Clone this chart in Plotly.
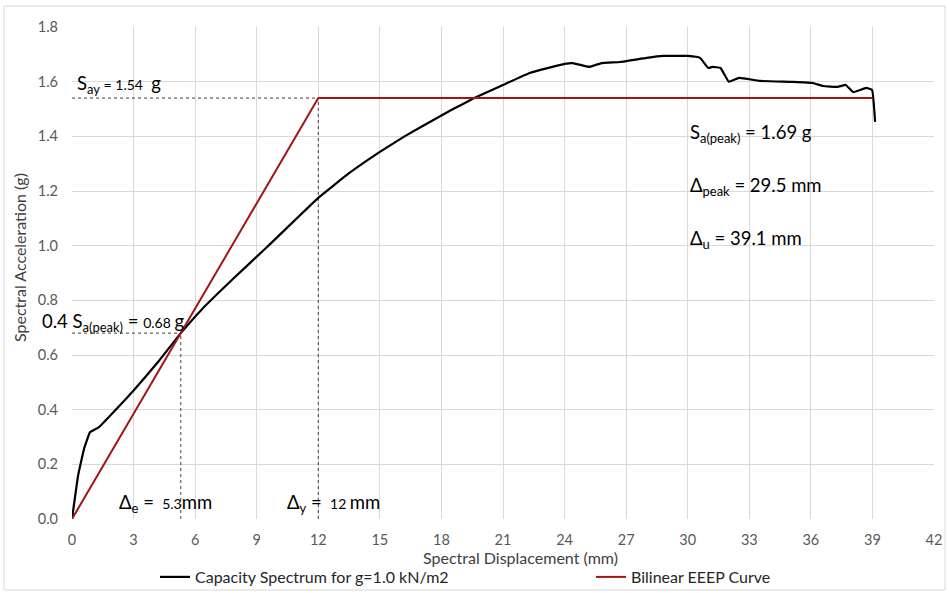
import plotly.graph_objects as go

# Capacity spectrum (Sd in mm, Sa in g)
cap_sd = [0, 0.3, 0.6, 0.88, 1.05, 1.3, 2.2, 3.0, 4.2, 5.3, 6.3, 7.8, 9.5, 12.0, 13.5, 15.0,
          16.2, 17.5, 18.5, 19.6, 21.0, 22.3, 24.0, 24.4, 25.2, 25.8, 26.7, 28.0, 28.8, 29.6,
          30.0, 30.6, 31.0, 31.2, 31.6, 32.0, 32.5, 33.5, 35.1, 36.1, 36.6, 37.3, 37.7,
          38.06, 38.7, 38.98, 39.13]
cap_sa = [0, 0.16, 0.26, 0.318, 0.325, 0.335, 0.405, 0.47, 0.575, 0.68, 0.765, 0.875, 0.995, 1.175, 1.265, 1.343,
          1.40, 1.455, 1.497, 1.54, 1.588, 1.632, 1.665, 1.668, 1.654, 1.668, 1.672, 1.687, 1.694, 1.694,
          1.694, 1.687, 1.65, 1.654, 1.65, 1.60, 1.614, 1.603, 1.599, 1.595, 1.584, 1.581, 1.588,
          1.562, 1.577, 1.57, 1.453]

# Bilinear EEEP curve
bil_sd = [0, 12.0, 39.0]
bil_sa = [0, 1.54, 1.54]

# Key values
say = 1.54
dy = 12.0
sa_e = 0.68
de = 5.3

x_ticks = list(range(0, 43, 3))
y_ticks = [0.0, 0.2, 0.4, 0.6, 0.8, 1.0, 1.2, 1.4, 1.6, 1.8]

FONT = "Lato, Carlito, Calibri, sans-serif"
fig = go.Figure()

# guide dashed lines
dash = dict(color="#404040", width=1, dash="dot")
fig.add_trace(go.Scatter(x=[0, dy], y=[say, say], mode="lines", line=dash, showlegend=False, hoverinfo="skip"))
fig.add_trace(go.Scatter(x=[dy, dy], y=[0, say], mode="lines", line=dash, showlegend=False, hoverinfo="skip"))
fig.add_trace(go.Scatter(x=[0, de], y=[sa_e, sa_e], mode="lines", line=dash, showlegend=False, hoverinfo="skip"))
fig.add_trace(go.Scatter(x=[de, de], y=[0, sa_e], mode="lines", line=dash, showlegend=False, hoverinfo="skip"))

fig.add_trace(go.Scatter(x=cap_sd, y=cap_sa, mode="lines", name="Capacity Spectrum for g=1.0 kN/m2",
                         line=dict(color="black", width=2.2, shape="spline", smoothing=0.3), legend="legend"))
fig.add_trace(go.Scatter(x=bil_sd, y=bil_sa, mode="lines", name="Bilinear EEEP Curve",
                         line=dict(color="#a31515", width=2), legend="legend2"))

big = "font-size:18.5px"
small = "font-size:14px"
anns = [
    ("x", 0.15, 1.588, f'<span style="{big}">S<sub>ay</sub></span><span style="{small}"> = 1.54 </span><span style="{big}"> g</span>'),
    ("paper", (40 - 72) / 862, 0.72, f'<span style="{big}">0.4 S<sub>a(peak)</sub> = </span><span style="{small}">0.68 </span><span style="{big}">g</span>'),
    ("x", 2.19, 0.058, f'<span style="{big}">Δ<sub>e</sub> = </span><span style="{small}"> 5.3</span><span style="{big}">mm</span>'),
    ("x", 10.38, 0.058, f'<span style="{big}">Δ<sub>y</sub> = </span><span style="{small}"> 12 </span><span style="{big}">mm</span>'),
    ("x", 30.0, 1.412, f'<span style="{big}">S<sub>a(peak)</sub> = 1.69 g</span>'),
    ("x", 30.0, 1.218, f'<span style="{big}">Δ<sub>peak</sub> = 29.5 mm</span>'),
    ("x", 30.0, 1.024, f'<span style="{big}">Δ<sub>u</sub> = 39.1 mm</span>'),
]
for xr, x, y, t in anns:
    fig.add_annotation(x=x, y=y, xref=xr, yref="y", text=t, showarrow=False,
                       xanchor="left", yanchor="middle", font=dict(family=FONT, size=18, color="black"))

# axis titles
fig.add_annotation(x=(19 - 72) / 862, y=(519 - 258) / 492, xref="paper", yref="paper",
                   text="Spectral Acceleration (g)", textangle=-90, showarrow=False,
                   xanchor="center", yanchor="middle", font=dict(family=FONT, size=16, color="#404040"))
fig.add_annotation(x=(520 - 72) / 862, y=(519 - 557) / 492, xref="paper", yref="paper",
                   text="Spectral Displacement (mm)", showarrow=False,
                   xanchor="center", yanchor="middle", font=dict(family=FONT, size=16, color="#404040"))

# outer chart border
fig.add_shape(type="rect", xref="paper", yref="paper", x0=-0.0789, x1=1.0128, y0=-0.1443, y1=1.0427,
              line=dict(color="#d9d9d9", width=1), layer="below")

leg_common = dict(orientation="h", yanchor="middle", y=(519 - 577) / 492, xanchor="left",
                  font=dict(size=16, color="#262626"), bgcolor="rgba(0,0,0,0)", itemwidth=30)

fig.update_layout(
    width=949, height=593,
    margin=dict(l=72, r=15, t=27, b=74, autoexpand=False),
    paper_bgcolor="white", plot_bgcolor="white",
    font=dict(family=FONT, size=14, color="#595959"),
    xaxis=dict(range=[0, 42], tickvals=x_ticks, showgrid=True, gridcolor="#d9d9d9", gridwidth=1,
               zeroline=False, showline=False, ticks="", tickfont=dict(size=14.5, color="#595959"),
               automargin=False, ticklabelstandoff=10),
    yaxis=dict(range=[0, 1.8], tickvals=y_ticks, tickformat=".1f", showgrid=True, gridcolor="#d9d9d9",
               gridwidth=1, zeroline=False, showline=False, ticks="", ticklabelstandoff=13,
               tickfont=dict(size=14.5, color="#595959"), automargin=False),
    legend=dict(x=(155 - 72) / 862, **leg_common),
    legend2=dict(x=(591 - 72) / 862, **leg_common),
    showlegend=True,
)

fig.write_html("out.html")
